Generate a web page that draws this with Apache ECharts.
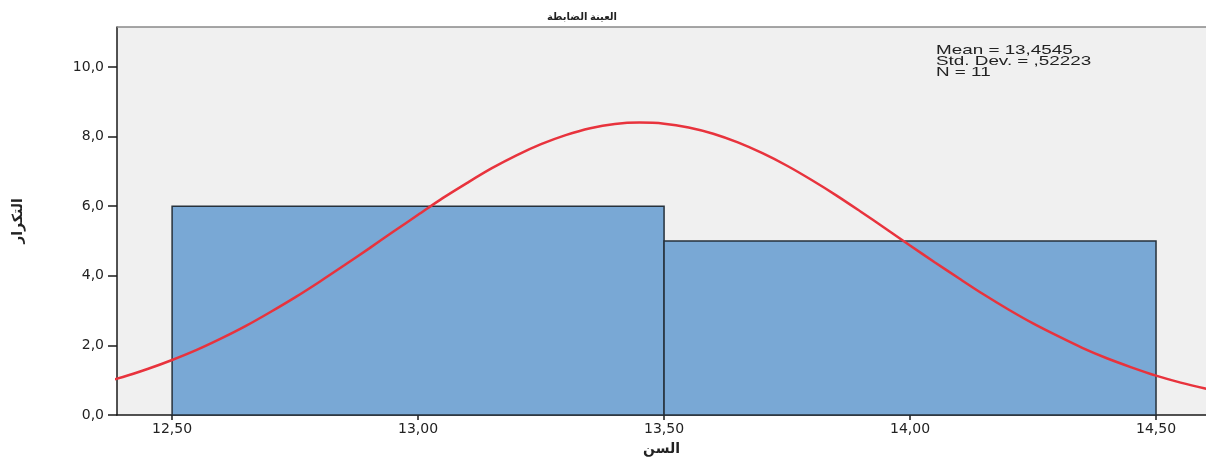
<!DOCTYPE html>
<html><head><meta charset="utf-8">
<script src="https://cdn.jsdelivr.net/npm/echarts@6/dist/echarts.min.js"></script>
<style>html,body{margin:0;padding:0;background:#fff}#c{width:1206px;height:459px}</style>
</head><body><div id="c"></div>
<script>
const binStart = [12.5, 13.5];
const binEnd = [13.5, 14.5];
const counts = [6, 5];
const curveX = [12.3, 12.35, 12.4, 12.45, 12.5, 12.55, 12.6, 12.65, 12.7, 12.75, 12.8, 12.85, 12.9, 12.95, 13.0, 13.05, 13.1, 13.15, 13.2, 13.25, 13.3, 13.35, 13.4, 13.45, 13.5, 13.55, 13.6, 13.65, 13.7, 13.75, 13.8, 13.85, 13.9, 13.95, 14.0, 14.05, 14.1, 14.15, 14.2, 14.25, 14.3, 14.35, 14.4, 14.45, 14.5, 14.55, 14.6, 14.65, 14.7];
const curveY = [0.73, 0.90, 1.09, 1.32, 1.58, 1.87, 2.20, 2.56, 2.96, 3.38, 3.83, 4.30, 4.78, 5.27, 5.75, 6.23, 6.67, 7.09, 7.46, 7.78, 8.04, 8.24, 8.36, 8.40, 8.37, 8.26, 8.08, 7.83, 7.52, 7.16, 6.75, 6.31, 5.84, 5.36, 4.87, 4.39, 3.92, 3.46, 3.03, 2.63, 2.27, 1.93, 1.63, 1.37, 1.13, 0.93, 0.76, 0.61, 0.49];
const xTicks = [12.5, 13.0, 13.5, 14.0, 14.5];
const yTicks = [0, 2, 4, 6, 8, 10];
const statsLines = ['Mean = 13,4545', 'Std. Dev. = ,52223', 'N = 11'];
const titleText = 'العينة الضابطة';
const xName = 'السن';
const yName = 'التكرار';

const fmtX = v => v.toFixed(2).replace('.', ',');
const fmtY = v => v.toFixed(1).replace('.', ',');

const chart = echarts.init(document.getElementById('c'), null, {renderer: 'canvas'});
const font = 'Liberation Sans, Arial, sans-serif';
const tickFont = 'DejaVu Sans, sans-serif';
chart.setOption({
  animation: false,
  backgroundColor: '#ffffff',
  grid: {left: 117, top: 27, right: 0, bottom: 44, outerBoundsMode: 'none', containLabel: false,
    backgroundColor: '#f0f0f0', show: true, borderWidth: 0},
  title: {text: titleText, left: 577, top: 7, textAlign: 'center',
    textStyle: {fontSize: 10, fontWeight: 'bold', color: '#222', fontFamily: 'Noto Sans, DejaVu Sans, sans-serif'}},
  xAxis: {
    type: 'value', min: 12.388, max: 14.6016,
    axisLine: {show: true, lineStyle: {color: '#1a1a1a', width: 1.5}},
    axisTick: {show: true, customValues: xTicks, length: 5, lineStyle: {color: '#1a1a1a', width: 1.5}},
    axisLabel: {customValues: xTicks, formatter: fmtX, color: '#222', fontSize: 14, fontFamily: tickFont, margin: 7},
    splitLine: {show: false},
    name: xName, nameLocation: 'middle', nameGap: 27,
    nameTextStyle: {fontSize: 14, fontWeight: 'bold', color: '#222', fontFamily: 'Noto Sans, DejaVu Sans, sans-serif'}
  },
  yAxis: {
    type: 'value', min: 0, max: 11.146,
    axisLine: {show: true, lineStyle: {color: '#1a1a1a', width: 1.5}},
    axisTick: {show: true, customValues: yTicks, length: 9, lineStyle: {color: '#1a1a1a', width: 1.5}},
    axisLabel: {customValues: yTicks, formatter: fmtY, color: '#222', fontSize: 14, fontFamily: tickFont, margin: 13},
    splitLine: {show: false},
    name: yName, nameLocation: 'middle', nameGap: 92, nameRotate: 90,
    nameTextStyle: {fontSize: 14, fontWeight: 'bold', color: '#222', fontFamily: 'Noto Sans, DejaVu Sans, sans-serif'}
  },
  graphic: [
    {type: 'line', shape: {x1: 117, y1: 27, x2: 1206, y2: 27}, style: {stroke: '#888', lineWidth: 1.5}, z: 10},
    {type: 'text', x: 936, y: 45, scaleX: 1.45, style: {text: statsLines.join('\n'), fontSize: 13, lineHeight: 11, fill: '#222', fontFamily: font}, z: 10}
  ],
  series: [
    {
      type: 'custom',
      data: counts.map((c, i) => [binStart[i], binEnd[i], c]),
      renderItem: function (params, api) {
        const p0 = api.coord([api.value(0), api.value(2)]);
        const p1 = api.coord([api.value(1), 0]);
        return {type: 'rect', shape: {x: p0[0], y: p0[1], width: p1[0] - p0[0], height: p1[1] - p0[1]},
          style: {fill: '#79a8d5', stroke: '#26313b', lineWidth: 1.5}};
      },
      z: 2
    },
    {
      type: 'line', data: curveX.map((x, i) => [x, curveY[i]]), smooth: 0.3, symbol: 'none', clip: true,
      lineStyle: {color: '#e8333d', width: 2.5}, z: 3
    }
  ]
});
</script></body></html>
